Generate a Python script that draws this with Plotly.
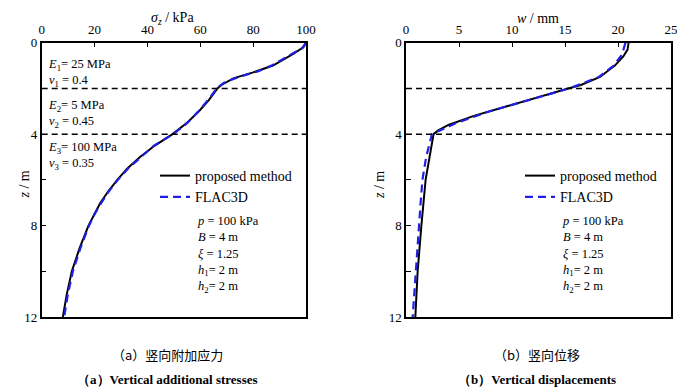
import plotly.graph_objects as go

# ---------------- data ----------------
# (a) vertical additional stress, proposed method
z_sig = [0, 0.2, 0.5, 0.75, 1.0, 1.3, 1.56, 1.85, 2.0, 2.5, 3.0, 3.5, 4.0, 4.5, 5.0, 5.5, 6.0, 6.5, 7.0, 8.0, 9.0, 10.0, 11.0, 12.0]
sig_prop = [100, 99, 95, 91.5, 87.5, 80, 72.5, 68, 66.5, 63.3, 59.5, 55, 49.5, 42.8, 37.2, 32.4, 28.6, 25.2, 22.2, 17.7, 14.3, 11.4, 9.5, 8.0]
# (a) FLAC3D
z_sig_f = [0, 0.25, 0.5, 1.0, 1.25, 1.5, 1.75, 2.0, 2.5, 3.0, 3.5, 4.0, 4.5, 5.0, 5.5, 6.0, 6.5, 7.0, 7.5, 8.0, 9.0, 10.0, 11.0, 12.0]
sig_flac = [100, 98.5, 94.5, 87, 82, 74.5, 69, 66.2, 63.0, 59.3, 55.2, 49.8, 42.5, 37.4, 32.7, 28.8, 25.4, 22.6, 20.0, 17.9, 14.6, 11.8, 9.9, 8.5]

# (b) vertical displacement, proposed method
z_w = [0, 0.3, 0.6, 1.0, 1.5, 1.85, 2.0, 2.4, 2.8, 3.2, 3.6, 3.85, 4.0, 6.0, 8.0, 10.0, 12.0]
w_prop = [21.0, 20.9, 20.5, 19.7, 18.3, 16.5, 15.3, 12.4, 9.5, 6.4, 4.0, 3.0, 2.6, 1.85, 1.45, 1.1, 0.88]
# (b) FLAC3D
z_w_f = [0, 0.5, 1.0, 1.5, 2.0, 2.5, 3.0, 3.5, 4.0, 5.0, 6.0, 7.0, 8.0, 9.0, 10.0, 11.0, 12.0]
w_flac = [20.7, 20.4, 19.6, 18.2, 15.4, 11.6, 7.9, 4.8, 2.45, 1.9, 1.55, 1.38, 1.22, 1.05, 0.9, 0.77, 0.63]

layer_bounds = [2, 4]
sig_ticks = [0, 20, 40, 60, 80, 100]
w_ticks = [0, 5, 10, 15, 20, 25]
z_tickvals = [0, 2, 4, 6, 8, 10, 12]
z_ticktext = ["0", "", "4", "", "8", "", "12"]

SERIF = "Liberation Serif"
CJK = "Noto Sans CJK SC"
BLUE = "#1f1fe6"

W, H = 685, 392
OFF = 8  # page body margin in the browser


def fx(X):
    return (X - OFF) / W


def fy(Y):
    return 1 - (Y - OFF) / H


fig = go.Figure()

fig.add_trace(go.Scatter(x=sig_prop, y=z_sig, mode="lines", name="proposed method",
                         line=dict(color="black", width=2), xaxis="x", yaxis="y", legend="legend"))
fig.add_trace(go.Scatter(x=sig_flac, y=z_sig_f, mode="lines", name="FLAC3D",
                         line=dict(color=BLUE, width=2.2, dash="8px,5px"), xaxis="x", yaxis="y", legend="legend"))
fig.add_trace(go.Scatter(x=w_prop, y=z_w, mode="lines", name="proposed method",
                         line=dict(color="black", width=2), xaxis="x2", yaxis="y2", legend="legend2"))
fig.add_trace(go.Scatter(x=w_flac, y=z_w_f, mode="lines", name="FLAC3D",
                         line=dict(color=BLUE, width=2.2, dash="8px,5px"), xaxis="x2", yaxis="y2", legend="legend2"))

# layer boundary dashed lines
shapes = []
for xr, yr in (("x domain", "y"), ("x2 domain", "y2")):
    for zb in layer_bounds:
        shapes.append(dict(type="line", xref=xr, yref=yr, x0=0, x1=1, y0=zb, y1=zb,
                           line=dict(color="black", width=1.5, dash="6px,4px")))

ydom = [fy(317), fy(42.7)]
xdom1 = [fx(41.7), fx(306)]
xdom2 = [fx(406), fx(671)]

axis_common = dict(showline=True, linecolor="black", linewidth=1.5, mirror=True,
                   ticks="inside", ticklen=5, tickwidth=1.2, tickcolor="black",
                   showgrid=False, zeroline=False, automargin=False,
                   tickfont=dict(family=SERIF, size=13, color="black"))

leg_common = dict(xanchor="left", yanchor="top", bgcolor="rgba(0,0,0,0)",
                  font=dict(family=SERIF, size=14, color="black"),
                  tracegroupgap=0, itemwidth=30)

fig.update_layout(
    width=W, height=H,
    margin=dict(l=0, r=0, t=0, b=0),
    paper_bgcolor="white", plot_bgcolor="white",
    font=dict(family=SERIF, size=13, color="black"),
    xaxis=dict(domain=xdom1, range=[0, 100], side="top", tickvals=sig_ticks,
               anchor="y", ticklabelstandoff=2, **axis_common),
    yaxis=dict(domain=ydom, range=[12, 0], tickvals=z_tickvals, ticktext=z_ticktext,
               anchor="x", **axis_common),
    xaxis2=dict(domain=xdom2, range=[0, 25], side="top", tickvals=w_ticks,
                anchor="y2", ticklabelstandoff=2, **axis_common),
    yaxis2=dict(domain=ydom, range=[12, 0], tickvals=z_tickvals, ticktext=z_ticktext,
                anchor="x2", **axis_common),
    shapes=shapes,
    showlegend=True,
    legend=dict(x=fx(155), y=fy(160), **leg_common),
    legend2=dict(x=fx(520), y=fy(160), **leg_common),
)

ann = []


def txt(x, y, t, size=14, xanchor="left", family=SERIF, **kw):
    ann.append(dict(x=fx(x), y=fy(y), xref="paper", yref="paper", text=t,
                    showarrow=False, xanchor=xanchor, yanchor="middle", align="left",
                    font=dict(family=family, size=size, color="black"), **kw))


# axis titles
txt(172, 18.5, "<i>σ</i><sub><i>z</i></sub> / kPa", xanchor="center")
txt(538, 18.5, "<i>w</i> / mm", xanchor="center")
for X in (15, 380):
    ann.append(dict(x=fx(X), y=fy(185), xref="paper", yref="paper", text="<i>z</i> / m",
                    showarrow=False, textangle=-90,
                    font=dict(family=SERIF, size=14, color="black")))

# layer properties (two lines each)
txt(46, 73.5, "<i>E</i><sub>1</sub>= 25 MPa<br><i>ν</i><sub>1</sub> = 0.4", size=12.5)
txt(46, 114.5, "<i>E</i><sub>2</sub>= 5 MPa<br><i>ν</i><sub>2</sub> = 0.45", size=12.5)
txt(46, 156, "<i>E</i><sub>3</sub>= 100 MPa<br><i>ν</i><sub>3</sub> = 0.35", size=12.5)

# parameters
params = "<br>".join(["<i>p</i> = 100 kPa", "<i>B</i> = 4 m", "<i>ξ</i> = 1.25",
                      "<i>h</i><sub>1</sub>= 2 m", "<i>h</i><sub>2</sub>= 2 m"])
txt(195, 254, params, size=12.5)
txt(560, 254, params, size=12.5)

# captions
txt(167, 354, "（a）竖向附加应力", size=13, xanchor="center", family=CJK)
txt(167, 379, "<b>（a）Vertical additional stresses</b>", size=13, xanchor="center")
txt(537, 354, "（b）竖向位移", size=13, xanchor="center", family=CJK)
txt(537, 379, "<b>（b）Vertical displacements</b>", size=13, xanchor="center")

fig.update_layout(annotations=ann)

fig.write_html("out.html")
